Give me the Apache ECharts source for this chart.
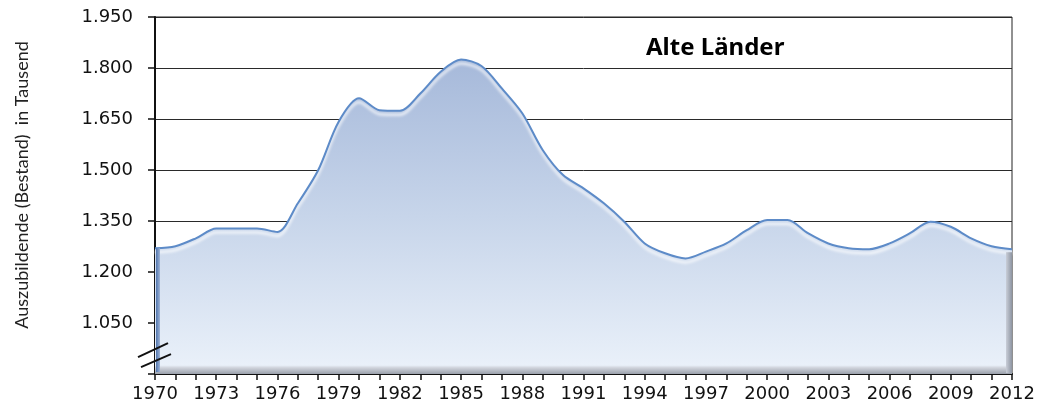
<!DOCTYPE html>
<html>
<head>
<meta charset="utf-8">
<script src="https://cdn.jsdelivr.net/npm/echarts@6/dist/echarts.min.js"></script>
<style>html,body{margin:0;padding:0;background:#fff;}#c{width:1040px;height:410px;}</style>
</head>
<body>
<div id="c"></div>
<script>
// Data (Tausend Auszubildende, Alte Länder)
var years = [1970,1971,1972,1973,1974,1975,1976,1977,1978,1979,1980,1981,1982,1983,1984,1985,1986,1987,1988,1989,1990,1991,1992,1993,1994,1995,1996,1997,1998,1999,2000,2001,2002,2003,2004,2005,2006,2007,2008,2009,2010,2011,2012];
var trainees = [1270,1276,1299,1328,1328,1328,1318,1402,1500,1642,1711,1676,1674,1725,1789,1825,1806,1740,1667,1559,1485,1446,1402,1348,1284,1255,1240,1260,1284,1323,1353,1353,1314,1284,1270,1267,1284,1314,1348,1333,1299,1276,1267];
var yTicks = [900,1050,1200,1350,1500,1650,1800,1950];
var titleText = 'Alte Länder';
var yTitle = 'Auszubildende (Bestand)  in Tausend';

function fmt(v){
  if (v === yTicks[0]) return '';
  var th = Math.floor(v/1000), r = v % 1000;
  return th + '.' + String(r).padStart(3,'0');
}

var chart = echarts.init(document.getElementById('c'), null, {renderer:'canvas'});
var option = {
  animation:false,
  backgroundColor:'#ffffff',
  title:{text:titleText, left:641, top:31, textStyle:{fontFamily:'Noto Sans', fontWeight:'bold', fontSize:24, color:'#000'}},
  grid:{left:155, right:28, top:17, bottom:36, show:true, borderColor:'#222', borderWidth:1, backgroundColor:'transparent'},
  xAxis:{
    type:'category', boundaryGap:false, data:years.map(String),
    axisLine:{lineStyle:{color:'#111', width:2}},
    axisTick:{interval:0, length:6, lineStyle:{color:'#111', width:1.5}},
    axisLabel:{interval:2, margin:11, color:'#111', fontFamily:'DejaVu Sans', fontSize:18},
    splitLine:{show:false}
  },
  yAxis:{
    type:'value', min:yTicks[0], max:yTicks[yTicks.length-1], interval:150,
    axisLine:{show:true, lineStyle:{color:'#111', width:2}},
    axisTick:{show:true, length:7, lineStyle:{color:'#111', width:1.5}},
    axisLabel:{formatter:fmt, margin:22, color:'#111', fontFamily:'DejaVu Sans', fontSize:18},
    splitLine:{show:true, lineStyle:{color:'#2a2a2a', width:1}}
  },
  series:[{
    type:'line', data:trainees, smooth:0.3, symbol:'none',
    lineStyle:{color:'#5d8bc8', width:2, shadowColor:'rgba(255,255,255,0.95)', shadowBlur:3, shadowOffsetY:4},
    areaStyle:{opacity:1, color:new echarts.graphic.LinearGradient(0,0,0,1,[
      {offset:0, color:'#a6b9da'},
      {offset:0.5, color:'#c7d5ea'},
      {offset:0.972, color:'#e9f0f9'},
      {offset:0.98, color:'#d0d4dc'},
      {offset:1, color:'#9aa0ab'}
    ])},
    z:3
  }]
};
chart.setOption(option);

// axis break marks, 3D edges of the area and rotated y-axis title
var p1 = chart.convertToPixel({gridIndex:0}, [0, 970]);
var p2 = chart.convertToPixel({gridIndex:0}, [0, 941]);
var L0 = chart.convertToPixel({gridIndex:0}, [0, trainees[0]]);
var LB = chart.convertToPixel({gridIndex:0}, [0, yTicks[0]]);
var R0 = chart.convertToPixel({gridIndex:0}, [years.length-1, trainees[trainees.length-1]]);
chart.setOption({graphic:[
  {type:'rect', shape:{x:L0[0]+1, y:L0[1], width:4, height:LB[1]-L0[1]-2},
   style:{fill:new echarts.graphic.LinearGradient(0,0,1,0,[{offset:0,color:'#4f74ad'},{offset:1,color:'#9fb4d6'}])}, z:9},
  {type:'rect', shape:{x:R0[0]-6, y:R0[1]+3, width:6, height:LB[1]-R0[1]-4},
   style:{fill:new echarts.graphic.LinearGradient(0,0,1,0,[{offset:0,color:'#c9ced8'},{offset:1,color:'#8e95a2'}])}, z:9},
  {type:'line', shape:{x1:p1[0]-17, y1:p1[1]+7, x2:p1[0]+13, y2:p1[1]-7}, style:{stroke:'#111', lineWidth:2}, z:10},
  {type:'line', shape:{x1:p2[0]-14, y1:p2[1]+7, x2:p2[0]+16, y2:p2[1]-6}, style:{stroke:'#111', lineWidth:2}, z:10},
  {type:'text', x:22, y:185, rotation:Math.PI/2, style:{text:yTitle, fontFamily:'Lato', fontSize:18, fill:'#222', textAlign:'center', textVerticalAlign:'middle'}, z:10}
]});
</script>
</body>
</html>
